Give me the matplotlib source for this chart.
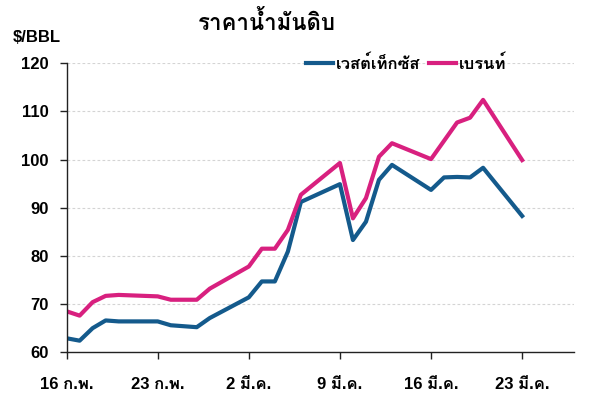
import matplotlib
matplotlib.use("Agg")
import matplotlib.pyplot as plt
from matplotlib import font_manager
from matplotlib.ft2font import FT2Font

# find an installed font with Thai glyphs
thai_font = None
for f in font_manager.fontManager.ttflist:
    try:
        if 0x0E01 in FT2Font(f.fname).get_charmap():
            thai_font = f.name
            if f.weight in ("bold", 700):
                break
    except Exception:
        pass
families = ["Liberation Sans"] + ([thai_font] if thai_font else []) + ["DejaVu Sans"]
plt.rcParams["font.family"] = families
plt.rcParams["font.weight"] = "bold"

# days after 16 Feb
days = [0, 1, 2, 3, 4, 7, 8, 10, 11, 14, 15, 16, 17, 18, 21, 22, 23, 24, 25,
        28, 29, 30, 31, 32, 35]
wti = [62.9, 62.4, 65.0, 66.6, 66.4, 66.4, 65.6, 65.2, 67.1, 71.4, 74.7, 74.7,
       80.9, 91.2, 94.9, 83.3, 87.1, 95.8, 98.9, 93.7, 96.3, 96.4, 96.3, 98.3, 88.3]
brent = [68.5, 67.6, 70.4, 71.7, 71.9, 71.6, 70.9, 70.9, 73.2, 77.8, 81.5, 81.5,
         85.4, 92.7, 99.3, 87.8, 92.0, 100.6, 103.4, 100.1, 103.9, 107.7, 108.7,
         112.4, 99.9]
tick_days = [0, 7, 14, 21, 28, 35]
tick_labels = ["16 ก.พ.", "23 ก.พ.", "2 มี.ค.", "9 มี.ค.", "16 มี.ค.", "23 มี.ค."]

fig = plt.figure(figsize=(6, 3.98), dpi=100)
ax = fig.add_axes([0.111, 0.115, 0.846, 0.726])

ax.plot(days, wti, color="#145a8c", lw=3.0, label="เวสต์เท็กซัส")
ax.plot(days, brent, color="#d8207f", lw=3.0, label="เบรนท์")

ax.set_xlim(0, 39)
ax.set_ylim(60, 120)
ax.set_yticks(range(60, 121, 10))
ax.set_xticks(tick_days)
ax.set_xticklabels(tick_labels)
ax.yaxis.grid(True, color="#d4d4d4", ls=(0, (2.5, 2)), lw=0.8)
ax.set_axisbelow(True)
for s in ["top", "right"]:
    ax.spines[s].set_visible(False)
for s in ["left", "bottom"]:
    ax.spines[s].set_color("#222222")
    ax.spines[s].set_linewidth(1.0)
ax.tick_params(axis="y", length=5, width=1, labelsize=12, pad=8, colors="#222222")
ax.tick_params(axis="x", length=5, width=1, labelsize=12, pad=13, colors="#222222")
for lab in ax.get_xticklabels() + ax.get_yticklabels():
    lab.set_color("black")
    lab.set_fontweight("bold")

ax.legend(loc="center right", bbox_to_anchor=(0.88, 1.0), ncol=2, frameon=False,
          fontsize=12, handlelength=1.6, handletextpad=0.2, columnspacing=0.5,
          borderaxespad=0)

fig.text(0.445, 0.942, "ราคาน้ำมันดิบ", ha="center", va="center",
         fontsize=16, fontweight="bold")
fig.text(0.022, 0.906, "$/BBL", ha="left", va="center", fontsize=12,
         fontweight="bold")

fig.savefig("out.png", dpi=100)
